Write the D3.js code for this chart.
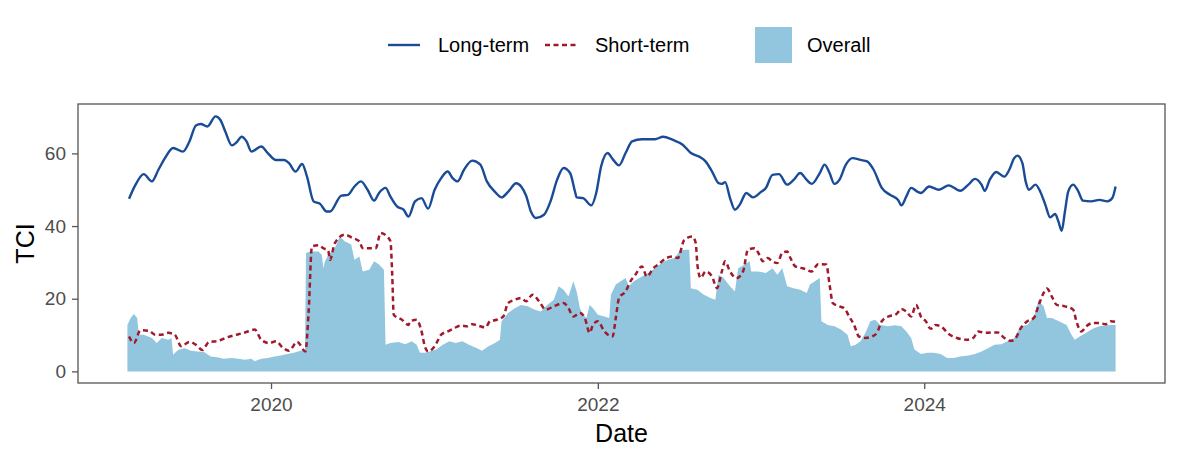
<!DOCTYPE html>
<html><head><meta charset="utf-8">
<script src="https://cdn.jsdelivr.net/npm/d3@7"></script>
<style>body{margin:0;background:#fff}svg{display:block;font-family:"Liberation Sans",Arial,sans-serif}</style>
</head><body><svg id="c" width="1182" height="461"></svg>
<script>
// ---- data (decimal years, TCI values) ----
const longDates = [2019.13,2019.17,2019.22,2019.27,2019.31,2019.35,2019.40,2019.46,2019.50,2019.54,2019.57,2019.61,2019.66,2019.69,2019.72,2019.76,2019.79,2019.82,2019.85,2019.88,2019.94,2019.98,2020.03,2020.08,2020.11,2020.15,2020.19,2020.22,2020.26,2020.30,2020.34,2020.36,2020.43,2020.47,2020.51,2020.55,2020.59,2020.63,2020.66,2020.70,2020.73,2020.77,2020.81,2020.84,2020.88,2020.92,2020.96,2021.00,2021.04,2021.08,2021.11,2021.14,2021.18,2021.23,2021.28,2021.32,2021.37,2021.41,2021.45,2021.50,2021.53,2021.56,2021.59,2021.62,2021.67,2021.71,2021.75,2021.79,2021.83,2021.86,2021.87,2021.91,2021.96,2021.99,2022.02,2022.06,2022.09,2022.13,2022.17,2022.21,2022.27,2022.35,2022.40,2022.46,2022.52,2022.57,2022.63,2022.66,2022.70,2022.74,2022.76,2022.78,2022.81,2022.84,2022.87,2022.91,2022.95,2023.00,2023.03,2023.07,2023.11,2023.16,2023.20,2023.24,2023.28,2023.31,2023.36,2023.39,2023.42,2023.45,2023.48,2023.52,2023.56,2023.61,2023.65,2023.69,2023.74,2023.79,2023.84,2023.86,2023.89,2023.92,2023.96,2023.98,2024.03,2024.09,2024.15,2024.22,2024.27,2024.31,2024.35,2024.37,2024.40,2024.44,2024.49,2024.52,2024.55,2024.57,2024.60,2024.62,2024.64,2024.68,2024.71,2024.74,2024.77,2024.80,2024.82,2024.84,2024.86,2024.88,2024.91,2024.94,2024.97,2025.02,2025.07,2025.12,2025.15,2025.17];
const longValues = [47.5,51.4,54.3,52.3,55.5,58.7,61.5,60.5,63.3,67.7,68.1,67.4,70.2,69.2,66.0,62.2,63.1,64.6,63.3,60.5,61.9,60.1,58.2,58.2,57.3,55.0,57.1,53.6,46.8,46.1,44.0,44.0,48.4,48.6,50.9,52.3,50.0,47.0,49.1,50.5,48.1,45.4,44.5,42.6,46.8,47.7,44.8,50.0,53.2,55.0,53.2,52.3,55.5,58.0,56.9,52.3,49.4,47.9,49.4,51.8,50.9,48.4,44.0,42.2,43.1,46.8,52.7,56.0,54.6,49.5,47.9,47.7,45.7,49.1,56.4,60.1,58.5,56.7,60.1,63.3,63.9,63.9,64.6,63.7,62.4,60.1,58.9,57.8,55.0,51.8,51.6,52.1,47.7,44.5,45.9,49.1,47.9,49.4,50.5,54.1,54.3,51.4,52.7,54.6,52.7,51.6,54.6,56.9,54.6,51.6,52.7,56.9,58.7,58.2,57.8,55.5,50.5,48.6,47.2,45.7,48.1,50.5,49.4,49.1,50.9,50.0,51.2,49.7,51.4,53.0,51.4,49.7,52.7,54.9,53.6,55.5,58.7,59.4,57.3,52.3,50.0,51.4,49.4,45.9,42.4,43.3,41.3,38.7,44.0,49.5,51.4,49.7,47.0,46.8,47.2,46.8,47.7,50.9];

const shortDates = [2019.13,2019.16,2019.20,2019.25,2019.29,2019.33,2019.37,2019.41,2019.45,2019.50,2019.54,2019.58,2019.62,2019.67,2019.72,2019.79,2019.84,2019.90,2019.94,2019.99,2020.03,2020.07,2020.11,2020.16,2020.21,2020.23,2020.25,2020.29,2020.32,2020.35,2020.36,2020.39,2020.45,2020.50,2020.54,2020.56,2020.64,2020.67,2020.71,2020.73,2020.74,2020.75,2020.80,2020.84,2020.85,2020.89,2020.92,2020.94,2020.96,2021.00,2021.04,2021.08,2021.12,2021.16,2021.20,2021.23,2021.28,2021.31,2021.34,2021.38,2021.42,2021.45,2021.49,2021.53,2021.56,2021.60,2021.64,2021.68,2021.73,2021.79,2021.82,2021.85,2021.89,2021.92,2021.95,2021.97,2022.00,2022.04,2022.09,2022.11,2022.13,2022.17,2022.20,2022.23,2022.27,2022.30,2022.34,2022.37,2022.42,2022.46,2022.49,2022.53,2022.58,2022.60,2022.61,2022.63,2022.66,2022.70,2022.73,2022.76,2022.78,2022.81,2022.85,2022.89,2022.92,2022.96,2022.99,2023.01,2023.04,2023.07,2023.10,2023.13,2023.16,2023.18,2023.21,2023.26,2023.31,2023.35,2023.40,2023.42,2023.44,2023.48,2023.51,2023.54,2023.57,2023.60,2023.64,2023.68,2023.71,2023.74,2023.78,2023.83,2023.86,2023.89,2023.92,2023.95,2023.98,2024.01,2024.04,2024.07,2024.11,2024.15,2024.20,2024.26,2024.30,2024.33,2024.37,2024.41,2024.45,2024.49,2024.53,2024.56,2024.59,2024.63,2024.67,2024.70,2024.73,2024.75,2024.78,2024.81,2024.86,2024.91,2024.93,2024.96,2024.99,2025.03,2025.07,2025.11,2025.14,2025.17];
const shortValues = [9.6,7.8,11.3,11.2,10.1,10.1,10.6,10.1,6.9,8.1,7.3,5.9,8.1,8.3,9.2,10.1,10.7,11.5,8.7,7.8,8.3,6.6,5.7,8.1,5.5,16.5,34.4,34.7,33.9,33.2,30.7,35.3,37.6,36.7,35.8,33.9,33.9,38.1,37.1,35.8,27.5,15.6,14.2,12.8,13.8,14.2,11.0,6.9,5.5,6.9,10.1,11.0,11.9,12.6,12.4,13.0,12.4,12.1,13.8,14.2,15.1,18.8,19.7,20.2,19.3,21.1,19.3,17.0,17.9,18.8,17.4,15.1,16.1,14.7,10.6,12.8,13.8,11.0,9.6,14.7,20.2,22.0,24.8,26.6,28.9,26.1,28.4,29.4,31.2,31.6,31.2,36.2,37.1,35.3,29.4,25.7,27.5,26.1,22.9,27.5,30.3,27.5,25.7,27.5,33.5,33.9,32.1,30.3,31.2,30.3,29.8,32.6,33.0,31.2,28.9,28.3,27.5,29.5,29.4,23.9,18.8,17.9,17.4,15.1,12.8,9.6,9.2,9.6,10.6,13.8,15.1,15.8,17.2,16.5,15.1,18.3,15.1,13.8,11.7,12.8,12.1,10.3,9.2,8.7,9.2,11.0,10.6,10.7,10.7,9.2,8.4,9.2,11.9,13.8,14.7,18.3,21.6,22.8,20.6,18.3,17.9,17.0,13.8,11.0,12.4,13.3,13.3,13.0,13.8,13.6];

const overallDates = [2019.12,2019.14,2019.16,2019.18,2019.19,2019.22,2019.27,2019.30,2019.33,2019.37,2019.39,2019.40,2019.43,2019.47,2019.51,2019.55,2019.59,2019.63,2019.67,2019.71,2019.76,2019.80,2019.84,2019.88,2019.90,2019.94,2019.98,2020.02,2020.06,2020.10,2020.14,2020.18,2020.208,2020.214,2020.24,2020.29,2020.31,2020.32,2020.33,2020.35,2020.39,2020.42,2020.45,2020.49,2020.51,2020.54,2020.56,2020.60,2020.63,2020.66,2020.69,2020.70,2020.73,2020.78,2020.82,2020.86,2020.89,2020.91,2020.94,2020.97,2021.01,2021.05,2021.09,2021.13,2021.17,2021.21,2021.26,2021.29,2021.33,2021.37,2021.40,2021.41,2021.45,2021.49,2021.53,2021.57,2021.61,2021.65,2021.69,2021.73,2021.76,2021.79,2021.82,2021.85,2021.87,2021.89,2021.91,2021.93,2021.95,2021.97,2022.00,2022.04,2022.07,2022.08,2022.11,2022.14,2022.17,2022.19,2022.22,2022.27,2022.31,2022.35,2022.39,2022.43,2022.47,2022.50,2022.53,2022.56,2022.57,2022.61,2022.65,2022.69,2022.72,2022.74,2022.77,2022.81,2022.84,2022.86,2022.90,2022.93,2022.94,2022.98,2023.03,2023.07,2023.10,2023.13,2023.16,2023.20,2023.24,2023.28,2023.30,2023.33,2023.36,2023.37,2023.41,2023.45,2023.49,2023.53,2023.55,2023.58,2023.61,2023.64,2023.67,2023.70,2023.73,2023.78,2023.82,2023.86,2023.89,2023.92,2023.94,2023.98,2024.02,2024.06,2024.10,2024.14,2024.18,2024.22,2024.27,2024.31,2024.35,2024.39,2024.43,2024.47,2024.51,2024.55,2024.59,2024.63,2024.67,2024.70,2024.71,2024.73,2024.75,2024.78,2024.82,2024.87,2024.90,2024.92,2024.95,2024.99,2025.03,2025.07,2025.11,2025.15,2025.17];
const overallValues = [12.8,14.7,15.8,14.7,10.1,10.1,9.2,7.8,9.2,8.7,9.2,4.6,5.9,6.4,5.7,5.5,5.3,4.1,3.9,3.5,3.7,3.5,3.2,3.5,2.8,3.5,3.7,4.1,4.4,4.8,5.1,5.7,6.0,32.6,33.0,33.0,32.1,28.4,30.3,32.1,33.9,37.1,35.8,34.9,30.7,31.6,27.5,28.0,30.3,29.4,28.0,7.3,7.8,8.1,7.5,8.3,7.3,5.1,5.1,5.5,6.0,7.3,8.3,7.8,8.3,7.3,6.4,5.7,6.9,7.8,8.7,13.8,16.1,17.4,18.3,17.9,17.0,16.5,18.3,19.7,23.4,22.5,20.6,24.8,22.0,17.4,15.6,14.7,18.3,17.4,15.6,15.1,14.7,21.1,23.9,24.8,25.7,23.4,24.8,26.1,27.1,28.4,29.8,30.7,31.2,33.0,33.5,33.5,22.9,22.5,21.1,20.2,19.7,26.6,25.7,23.4,22.0,28.4,29.4,30.3,27.5,27.5,27.1,28.4,26.6,28.4,23.4,22.9,22.5,21.6,23.9,24.8,25.7,13.8,12.8,12.4,11.5,10.1,6.9,7.3,8.3,10.6,13.8,14.2,12.8,12.4,12.7,12.4,11.0,9.2,6.0,4.8,5.1,5.1,4.8,3.7,3.7,4.1,4.4,4.8,5.5,6.4,7.3,7.5,8.3,9.2,12.4,12.8,15.1,19.7,18.8,17.9,14.7,14.7,13.9,12.8,10.1,8.7,9.6,10.6,11.7,12.4,12.7,12.8,12.8];

const yTicks = [0, 20, 40, 60];
const xTickYears = [2020, 2022, 2024];
const seriesNames = ["Long-term", "Short-term", "Overall"];

// ---- helpers ----
function decToDate(d) {
  const y = Math.floor(d);
  const start = new Date(y, 0, 1), end = new Date(y + 1, 0, 1);
  return new Date(start.getTime() + (d - y) * (end - start));
}
const longData = longDates.map((d, i) => ({date: decToDate(d), v: longValues[i]}));
const shortData = shortDates.map((d, i) => ({date: decToDate(d), v: shortValues[i]}));
const overallData = overallDates.map((d, i) => ({date: decToDate(d), v: overallValues[i]}));

const svg = d3.select("#c");
const P = {l: 78, r: 1165, t: 104, b: 383};
const C = {long: "#194b96", short: "#a11a2c", overall: "#92c5de", axis: "#4d4d4d", border: "#555555"};
const FONT = "Liberation Sans, Arial, sans-serif";

const allDates = longData.concat(shortData, overallData).map(d => d.date);
const [d0, d1] = d3.extent(allDates);
const pad = (d1 - d0) * 0.05;
const x = d3.scaleTime().domain([new Date(+d0 - pad), new Date(+d1 + pad)]).range([P.l, P.r]);
const y = d3.scaleLinear().domain([-3.2, 73.6]).range([P.b, P.t]);

// area
svg.append("path").datum(overallData)
  .attr("fill", C.overall)
  .attr("d", d3.area().x(d => x(d.date)).y0(y(0)).y1(d => y(d.v)));

// short-term dashed
svg.append("path").datum(shortData)
  .attr("fill", "none").attr("stroke", C.short).attr("stroke-width", 2.5)
  .attr("stroke-dasharray", "5,3.5")
  .attr("d", d3.line().x(d => x(d.date)).y(d => y(d.v)).curve(d3.curveMonotoneX));

// long-term
svg.append("path").datum(longData)
  .attr("fill", "none").attr("stroke", C.long).attr("stroke-width", 2.4)
  .attr("stroke-linejoin", "round")
  .attr("d", d3.line().x(d => x(d.date)).y(d => y(d.v)).curve(d3.curveMonotoneX));

// panel border
svg.append("rect").attr("x", P.l).attr("y", P.t).attr("width", P.r - P.l).attr("height", P.b - P.t)
  .attr("fill", "none").attr("stroke", C.border).attr("stroke-width", 1.3);

// axes
const xAxis = d3.axisBottom(x).tickValues(xTickYears.map(yy => new Date(yy, 0, 1)))
  .tickFormat(d3.timeFormat("%Y")).tickSize(6).tickPadding(9);
const gx = svg.append("g").attr("transform", `translate(0,${P.b})`).call(xAxis);
gx.select(".domain").remove();
gx.selectAll("line").attr("stroke", C.border).attr("stroke-width", 1.3);
gx.selectAll("text").attr("fill", C.axis).style("font-size", "19px").style("font-family", FONT);

const yAxis = d3.axisLeft(y).tickValues(yTicks).tickSize(6).tickPadding(6);
const gy = svg.append("g").attr("transform", `translate(${P.l},0)`).call(yAxis);
gy.select(".domain").remove();
gy.selectAll("line").attr("stroke", C.border).attr("stroke-width", 1.3);
gy.selectAll("text").attr("fill", C.axis).style("font-size", "19px").style("font-family", FONT);

// axis titles
svg.append("text").attr("x", (P.l + P.r) / 2).attr("y", 442).attr("text-anchor", "middle")
  .style("font-size", "25px").attr("fill", "#000").text("Date");
svg.append("text").attr("transform", `translate(34,${(P.t + P.b) / 2}) rotate(-90)`).attr("text-anchor", "middle")
  .style("font-size", "25px").attr("fill", "#000").text("TCI");

// legend
const lg = svg.append("g").style("font-size", "20px");
lg.append("line").attr("x1", 388).attr("x2", 420).attr("y1", 45).attr("y2", 45)
  .attr("stroke", C.long).attr("stroke-width", 2.4);
lg.append("text").attr("x", 438).attr("y", 52).text(seriesNames[0]);
lg.append("line").attr("x1", 545).attr("x2", 577).attr("y1", 45).attr("y2", 45)
  .attr("stroke", C.short).attr("stroke-width", 2.5).attr("stroke-dasharray", "5,3.5");
lg.append("text").attr("x", 595).attr("y", 52).text(seriesNames[1]);
lg.append("rect").attr("x", 755).attr("y", 27).attr("width", 37).attr("height", 36).attr("fill", C.overall);
lg.append("text").attr("x", 807).attr("y", 52).text(seriesNames[2]);
</script></body></html>
